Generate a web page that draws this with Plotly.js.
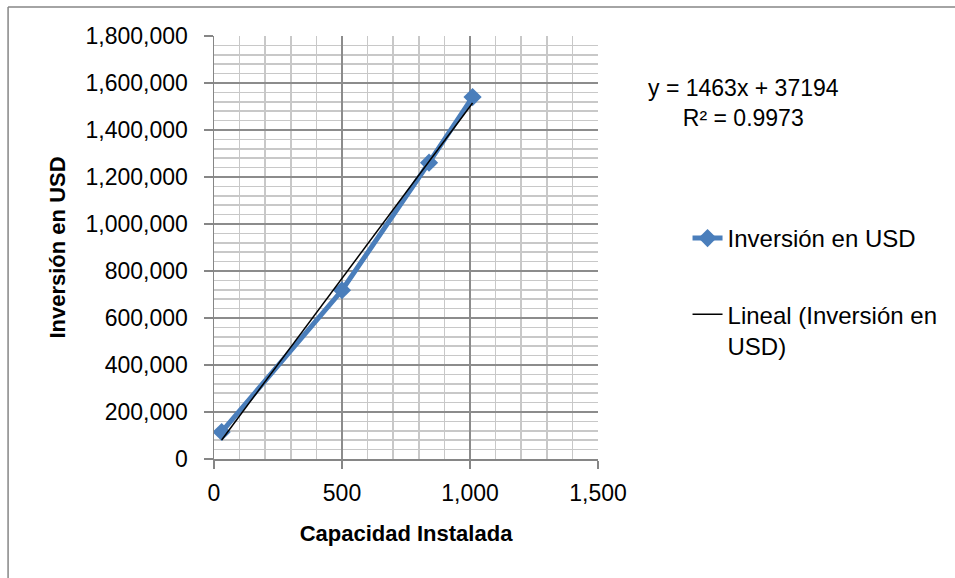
<!DOCTYPE html>
<html>
<head>
<meta charset="utf-8">
<script src="https://cdn.plot.ly/plotly-3.0.1.min.js"></script>
<style>html,body{margin:0;padding:0;background:#fff;}#chart{width:955px;height:578px;}</style>
</head>
<body>
<div id="chart"></div>
<script>
// Data
const capacidad = [30, 500, 840, 1010];
const inversion = [115000, 718000, 1261000, 1540000];
const seriesName = "Inversión en USD";
const trendName = "Lineal (Inversión en<br>USD)";
// Trendline as reported on the chart (y = 1463x + 37194, R² = 0.9973)
const trendSlope = [1463];
const trendIntercept = [37194];
const trendLabel = ["y = 1463x + 37194", "R² = 0.9973"];
const xTicks = [0, 500, 1000, 1500];
const yTicks = [0, 200000, 400000, 600000, 800000, 1000000, 1200000, 1400000, 1600000, 1800000];

const xMin = Math.min(...capacidad), xMax = Math.max(...capacidad);
const trendX = [xMin, xMax];
const trendY = trendX.map(x => trendSlope[0] * x + trendIntercept[0]);

const FONT = "Liberation Sans, Arial, sans-serif";
const W = 955, H = 578;
const L = 214, R = 600, T = 36, B = 459;
const pw = R - L, ph = B - T;
const px = v => (v - L) / pw;
const py = v => (B - v) / ph;

const traces = [
  {
    x: capacidad, y: inversion, name: seriesName, type: "scatter", mode: "lines+markers",
    line: {color: "#4a7ebb", width: 5},
    marker: {symbol: "diamond", size: 14, color: "#4a7ebb"},
    legendgroup: "a"
  },
  {
    x: trendX, y: trendY, name: trendName, type: "scatter", mode: "lines",
    line: {color: "#000000", width: 1.5},
    legendgroup: "b"
  }
];

const layout = {
  width: W, height: H,
  margin: {l: L, r: W - R, t: T, b: H - B, pad: 0},
  paper_bgcolor: "#fff", plot_bgcolor: "#fff",
  font: {family: FONT, size: 23, color: "#000"},
  showlegend: true,
  legend: {
    x: px(690), y: py(216), xanchor: "left", yanchor: "top",
    font: {family: FONT, size: 24, color: "#000"},
    valign: "top", tracegroupgap: 42, bgcolor: "rgba(0,0,0,0)"
  },
  xaxis: {
    range: [0, 1500], tickvals: xTicks, tickformat: ",",
    showline: true, linecolor: "#868686", linewidth: 1.5,
    ticks: "outside", ticklen: 8, tickcolor: "#868686", tickwidth: 1.5,
    showgrid: true, gridcolor: "#8c8c8c", gridwidth: 1.5,
    minor: {dtick: 100, showgrid: true, gridcolor: "#c8c8c8", gridwidth: 1.5, ticks: ""},
    zeroline: false, ticklabelstandoff: 5,
    tickfont: {family: FONT, size: 23},
    title: {text: "<b>Capacidad Instalada</b>", font: {family: FONT, size: 22}, standoff: 20}
  },
  yaxis: {
    range: [0, 1800000], tickvals: yTicks, tickformat: ",",
    showline: true, linecolor: "#868686", linewidth: 1.5,
    ticks: "outside", ticklen: 9, tickcolor: "#868686", tickwidth: 1.5,
    showgrid: true, gridcolor: "#8c8c8c", gridwidth: 1.5,
    minor: {dtick: 40000, showgrid: true, gridcolor: "#c8c8c8", gridwidth: 1.5, ticks: ""},
    zeroline: false, ticklabelstandoff: 11,
    tickfont: {family: FONT, size: 23},
    title: {text: "<b>Inversión en USD</b>", font: {family: FONT, size: 22}, standoff: 14}
  },
  shapes: [
    {type: "line", xref: "paper", yref: "paper",
     x0: px(7), x1: px(7), y0: py(H + 50), y1: py(7),
     line: {color: "#868686", width: 1.5}, layer: "below"},
    {type: "line", xref: "paper", yref: "paper",
     x0: px(7), x1: px(W + 50), y0: py(7), y1: py(7),
     line: {color: "#868686", width: 1.5}, layer: "below"}
  ],
  annotations: [
    {xref: "paper", yref: "paper", x: px(746), y: py(103), xanchor: "center", yanchor: "middle",
     text: trendLabel.join("<br>"), showarrow: false, align: "center",
     font: {family: FONT, size: 23, color: "#000"}}
  ]
};

Plotly.newPlot("chart", traces, layout, {displayModeBar: false, staticPlot: true});
</script>
</body>
</html>
